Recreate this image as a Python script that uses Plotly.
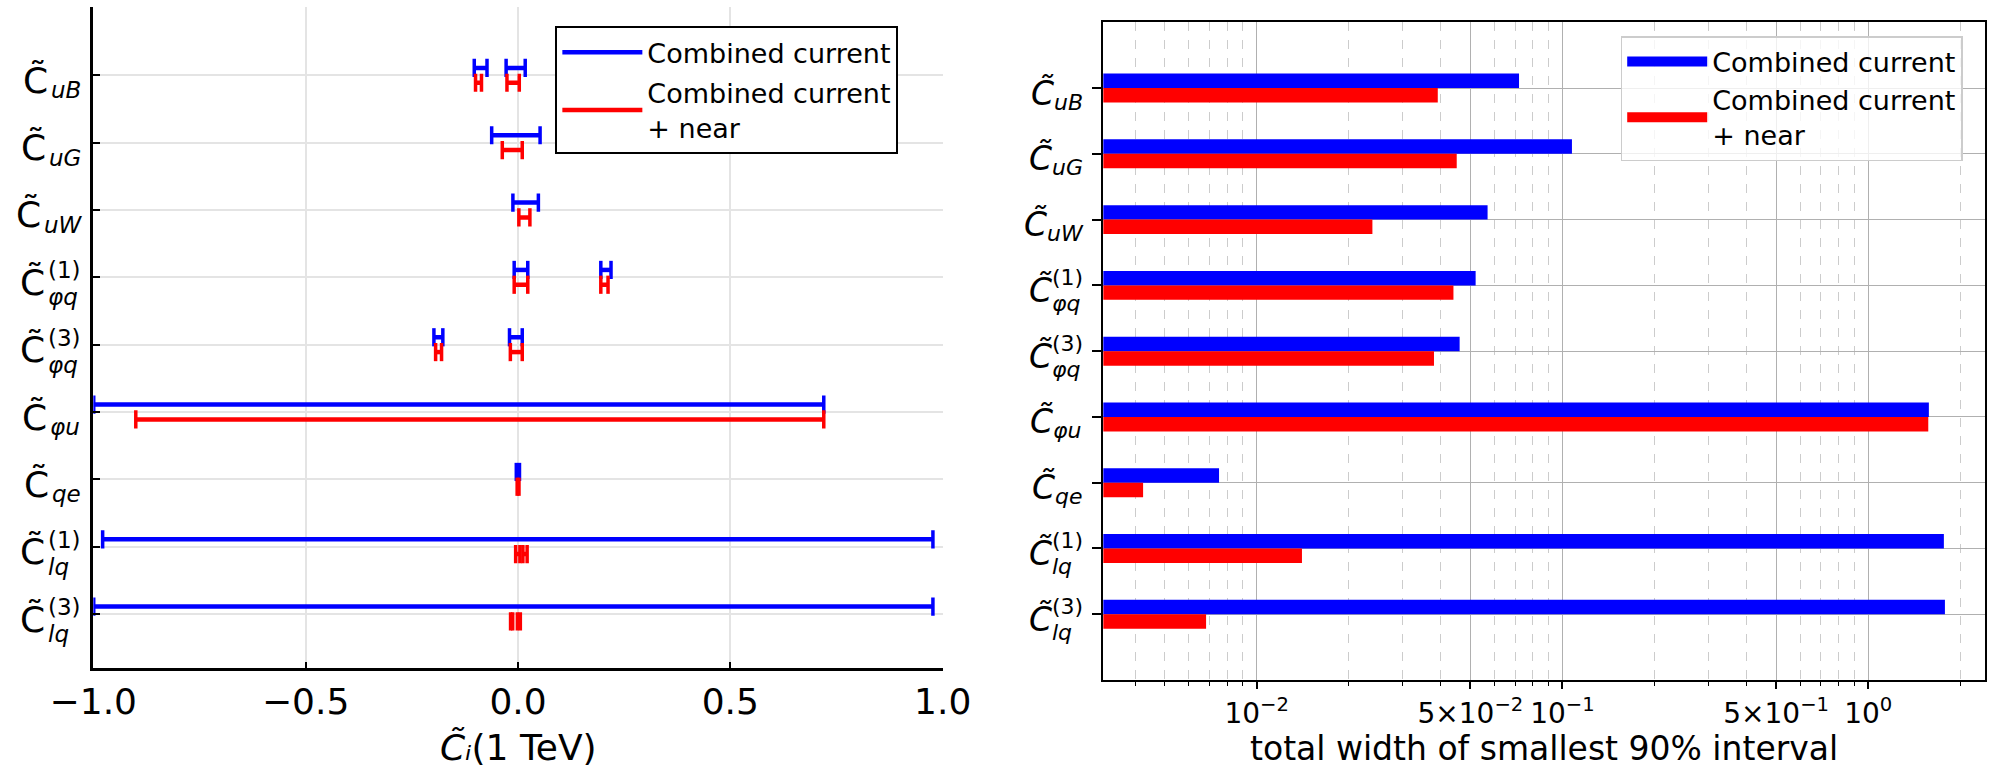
import math
import plotly.graph_objects as go

# Wilson coefficients, listed top to bottom
subs = ["uB", "uG", "uW", "φq", "φq", "φu", "qe", "lq", "lq"]
sups = ["", "", "", "(1)", "(3)", "", "", "(1)", "(3)"]
ypos = list(range(len(subs) - 1, -1, -1))

# Smallest 90% intervals of C_i(1 TeV); a coefficient may have two disjoint intervals
cur_idx = [0, 0, 1, 2, 3, 3, 4, 4, 5, 6, 7, 8]
cur_lo = [-0.103, -0.028, -0.062, -0.012, -0.009, 0.195, -0.198, -0.020, -0.999, -0.004, -0.978, -0.999]
cur_hi = [-0.073, 0.017, 0.052, 0.048, 0.023, 0.219, -0.177, 0.010, 0.720, 0.0035, 0.977, 0.977]

near_idx = [0, 0, 1, 2, 3, 3, 4, 4, 5, 6, 7, 7, 8, 8]
near_lo = [-0.100, -0.026, -0.037, 0.002, -0.009, 0.195, -0.194, -0.018, -0.900, -0.002, -0.0055, 0.0115, -0.0175, -0.0015]
near_hi = [-0.086, 0.003, 0.010, 0.028, 0.023, 0.212, -0.180, 0.010, 0.720, 0.0023, 0.0045, 0.0215, -0.0125, 0.0055]

# Total width of the smallest 90% interval
cur_width = [0.0721, 0.1074, 0.0569, 0.0520, 0.0461, 1.579, 0.00753, 1.768, 1.782]
near_width = [0.0391, 0.0451, 0.0239, 0.0440, 0.0380, 1.572, 0.00425, 0.01406, 0.00683]

series_names = ["Combined current", "Combined current<br>+ near"]
colors = ["#0000ff", "#ff0000"]
offset = 0.11
FONT = "DejaVu Sans"

fig = go.Figure()


def add_intervals(idx, lo, hi, color, name, dy, group):
    xs, ys, cx, cy = [], [], [], []
    for i, a, b in zip(idx, lo, hi):
        y = ypos[i] + dy
        xs += [a, b, None]
        ys += [y, y, None]
        cx += [a, b]
        cy += [y, y]
    fig.add_trace(go.Scatter(x=xs, y=ys, mode="lines", name=name, legendgroup=group,
                             line=dict(color=color, width=4.5),
                             xaxis="x", yaxis="y", legend="legend"))
    fig.add_trace(go.Scatter(x=cx, y=cy, mode="markers", showlegend=False, legendgroup=group,
                             marker=dict(symbol="line-ns", size=13,
                                         line=dict(color=color, width=3.5)),
                             xaxis="x", yaxis="y"))


add_intervals(cur_idx, cur_lo, cur_hi, colors[0], series_names[0], offset, "cur")
add_intervals(near_idx, near_lo, near_hi, colors[1], series_names[1], -offset, "near")

# Right panel: horizontal bars on a log axis
for widths, color, name, dy, group in [(cur_width, colors[0], series_names[0], offset, "cur2"),
                                       (near_width, colors[1], series_names[1], -offset, "near2")]:
    fig.add_trace(go.Bar(x=widths, y=[p + dy for p in ypos], orientation="h",
                         width=0.22, marker=dict(color=color, line=dict(width=0)),
                         showlegend=False, xaxis="x2", yaxis="y2"))
    fig.add_trace(go.Scatter(x=[None], y=[None], mode="lines", name=name, legendgroup=group,
                             line=dict(color=color, width=20),
                             xaxis="x2", yaxis="y2", legend="legend2"))

# Coefficient labels: C-tilde with stacked superscript / subscript
EM = {"u": 0.634, "B": 0.686, "G": 0.775, "W": 0.989, "φ": 0.72, "q": 0.635,
      "e": 0.615, "l": 0.278, "(": 0.39, ")": 0.39, "1": 0.636, "3": 0.636}


def text_width(s, size):
    return sum(EM.get(ch, 0.6) for ch in s) * size


def add_labels(xpaper, yref, main_size, sub_size, gap, italic, c_adj, c_dy,
               sub_dy, sub_dy_stacked, sup_dy):
    for i, y in enumerate(ypos):
        sub, sup = subs[i], sups[i]
        w = max(text_width(sub, sub_size), text_width(sup, sub_size))
        left = -(gap + w)
        ctext = "<i>C\u0303</i>" if italic else "C\u0303"
        fig.add_annotation(x=xpaper, xref="paper", y=y, yref=yref, text=ctext,
                           showarrow=False, xanchor="right", yanchor="middle",
                           xshift=left + c_adj, yshift=c_dy, borderpad=0,
                           font=dict(family=FONT, size=main_size, color="black"))
        fig.add_annotation(x=xpaper, xref="paper", y=y, yref=yref, text="<i>" + sub + "</i>",
                           showarrow=False, xanchor="left", yanchor="middle",
                           xshift=left, yshift=sub_dy_stacked if sup else sub_dy, borderpad=0,
                           font=dict(family=FONT, size=sub_size, color="black"))
        if sup:
            fig.add_annotation(x=xpaper, xref="paper", y=y, yref=yref, text=sup,
                               showarrow=False, xanchor="left", yanchor="middle",
                               xshift=left, yshift=sup_dy, borderpad=0,
                               font=dict(family=FONT, size=sub_size, color="black"))


L_DOM = [0.04682, 0.4730]
R_DOM = [0.5536, 0.99599]
add_labels(L_DOM[0], "y", 36, 23, 13.3, False, -1, -5, -15, -20, 7)
add_labels(R_DOM[0], "y2", 33, 22, 21.6, True, 2, -5, -14, -18, 8)

# Axis titles, centred under each panel
fig.add_annotation(x=sum(L_DOM) / 2, xref="paper", y=1 - 747 / 771, yref="paper",
                   text="<i>C\u0303\u1d62</i>(1 TeV)", showarrow=False,
                   xanchor="center", yanchor="middle", borderpad=0,
                   font=dict(family=FONT, size=36, color="black"))
fig.add_annotation(x=sum(R_DOM) / 2, xref="paper", y=1 - 748.5 / 771, yref="paper",
                   text="total width of smallest 90% interval", showarrow=False,
                   xanchor="center", yanchor="middle", borderpad=0,
                   font=dict(family=FONT, size=33, color="black"))

fig.update_layout(
    width=1993, height=771,
    margin=dict(l=0, r=0, t=0, b=0, autoexpand=False),
    paper_bgcolor="white", plot_bgcolor="white",
    font=dict(family=FONT, color="black"),
    barmode="overlay",
    xaxis=dict(domain=L_DOM, range=[-1, 1], anchor="y", automargin=False,
               tickvals=[-1, -0.5, 0, 0.5, 1], tickformat=".1f",
               ticks="inside", ticklen=6, tickwidth=2, tickcolor="black",
               tickfont=dict(size=36), ticklabelstandoff=0,
               showline=True, linewidth=2.7, linecolor="black", mirror=False,
               showgrid=True, gridcolor="#e4e4e4", gridwidth=1.5, zeroline=False),
    yaxis=dict(domain=[0.1340, 0.9913], range=[-0.797, 9.019], anchor="x", automargin=False,
               tickvals=ypos, showticklabels=False,
               ticks="inside", ticklen=6.7, tickwidth=2, tickcolor="black",
               showline=True, linewidth=2.7, linecolor="black", mirror=False,
               showgrid=True, gridcolor="#e4e4e4", gridwidth=1.5, zeroline=False),
    xaxis2=dict(domain=R_DOM, type="log", anchor="y2", automargin=False,
                range=[math.log10(0.00315), math.log10(2.41)],
                tickvals=[0.01, 0.05, 0.1, 0.5, 1],
                ticktext=["10<sup>−2</sup>", "5×10<sup>−2</sup>", "10<sup>−1</sup>",
                          "5×10<sup>−1</sup>", "10<sup>0</sup>"],
                ticks="outside", ticklen=7, tickwidth=1.5, tickcolor="black",
                tickfont=dict(size=28),
                showline=True, linewidth=1.8, linecolor="black", mirror=True,
                showgrid=True, gridcolor="#b0b0b0", gridwidth=1.2, zeroline=False,
                minor=dict(dtick="D1", ticks="outside", ticklen=4, tickwidth=1,
                           tickcolor="black", showgrid=True, gridcolor="#cccccc",
                           gridwidth=0.9, griddash="dash")),
    yaxis2=dict(domain=[0.1180, 0.97108], range=[-1, 9], anchor="x2", automargin=False,
                tickvals=ypos, showticklabels=False,
                ticks="outside", ticklen=9, tickwidth=1.8, tickcolor="black",
                showline=True, linewidth=1.8, linecolor="black", mirror=True,
                showgrid=True, gridcolor="#b0b0b0", gridwidth=1.2, zeroline=False),
    legend=dict(x=0.2785, y=1 - 26 / 771, xanchor="left", yanchor="top",
                bgcolor="white", bordercolor="black", borderwidth=2.3,
                font=dict(size=27), itemwidth=80, tracegroupgap=2),
    legend2=dict(x=0.8132, y=0.9533, xanchor="left", yanchor="top",
                 bgcolor="rgba(255,255,255,0.8)", bordercolor="#cccccc", borderwidth=1.5,
                 font=dict(size=27), itemwidth=80, tracegroupgap=0),
)

fig.write_html("out.html")
